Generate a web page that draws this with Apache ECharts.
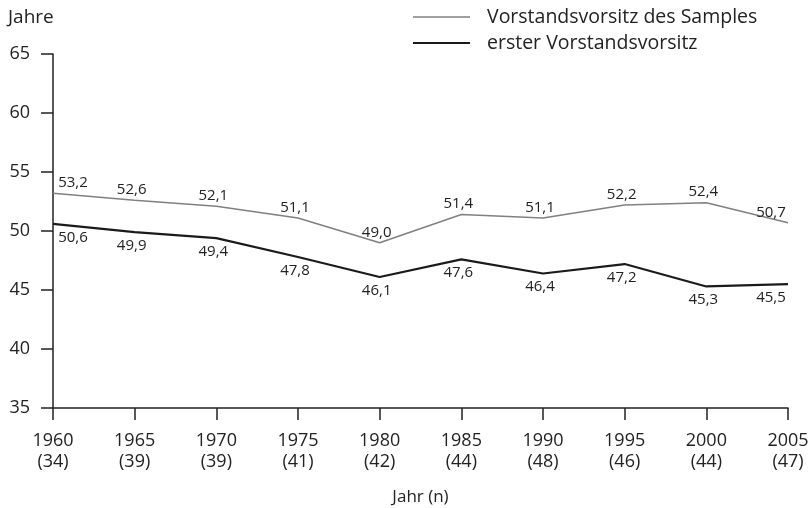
<!DOCTYPE html>
<html>
<head>
<meta charset="utf-8">
<script src="https://cdn.jsdelivr.net/npm/echarts@6/dist/echarts.min.js"></script>
<style>html,body{margin:0;padding:0;background:#fff;}#c{width:811px;height:508px;}</style>
</head>
<body>
<div id="c"></div>
<script>
var years = ['1960','1965','1970','1975','1980','1985','1990','1995','2000','2005'];
var counts = ['34','39','39','41','42','44','48','46','44','47'];
var sampleChair = [53.2,52.6,52.1,51.1,49.0,51.4,51.1,52.2,52.4,50.7];
var firstChair = [50.6,49.9,49.4,47.8,46.1,47.6,46.4,47.2,45.3,45.5];
var yTicks = [35,40,45,50,55,60,65];
var seriesNames = ['Vorstandsvorsitz des Samples','erster Vorstandsvorsitz'];

var FONT = 'Open Sans';
var TXT = '#222';
var GREY = '#808080', BLACK = '#1a1a1a';
var categories = years.map(function(y,i){ return y + '\n(' + counts[i] + ')'; });

function buildData(arr){
  return arr.map(function(v,i){
    var off = [-3,0];
    if(i===0) off=[20,0];
    if(i===arr.length-1) off=[-17,0];
    return {value:v, label:{offset:off}};
  });
}
function fmt(p){ return p.value.toFixed(1).replace('.',','); }

var chart = echarts.init(document.getElementById('c'));
chart.setOption({
  animation:false,
  textStyle:{fontFamily:FONT},
  grid:{left:53,right:23,top:54,bottom:100,containLabel:false,outerBoundsMode:'none'},
  graphic:[
    {type:'line',shape:{x1:413,y1:17,x2:470,y2:17},style:{stroke:GREY,lineWidth:1.5}},
    {type:'text',left:487,top:7,style:{text:seriesNames[0],font:'19.5px "Open Sans"',fill:TXT}},
    {type:'line',shape:{x1:413,y1:43,x2:470,y2:43},style:{stroke:BLACK,lineWidth:2.2}},
    {type:'text',left:487,top:33,style:{text:seriesNames[1],font:'19.5px "Open Sans"',fill:TXT}}
  ],
  xAxis:{
    type:'category', data:categories, boundaryGap:false,
    name:'Jahr (n)', nameLocation:'middle', nameGap:81,
    nameTextStyle:{fontFamily:FONT,fontSize:17,color:TXT},
    axisLine:{lineStyle:{color:TXT,width:1.5}},
    axisTick:{show:true,length:12,alignWithLabel:true,lineStyle:{color:TXT,width:1.5}},
    axisLabel:{fontFamily:FONT,fontSize:18,color:TXT,margin:22,lineHeight:21,interval:0}
  },
  yAxis:{
    type:'value', min:yTicks[0], max:yTicks[yTicks.length-1], interval:5,
    name:'Jahre', nameLocation:'end', nameGap:27,
    nameTextStyle:{fontFamily:FONT,fontSize:19,color:TXT,align:'left',padding:[0,0,0,-45]},
    axisLine:{show:true,lineStyle:{color:TXT,width:1.5}},
    axisTick:{show:true,length:12,lineStyle:{color:TXT,width:1.5}},
    splitLine:{show:false},
    axisLabel:{fontFamily:FONT,fontSize:18,color:TXT,margin:23}
  },
  series:[
    {name:seriesNames[0], type:'line', data:buildData(sampleChair), symbol:'circle', symbolSize:0, showSymbol:true,
     lineStyle:{color:GREY,width:1.5}, itemStyle:{color:GREY},
     label:{show:true,position:'top',distance:3,formatter:fmt,fontFamily:FONT,fontSize:15,color:TXT}},
    {name:seriesNames[1], type:'line', data:buildData(firstChair), symbol:'circle', symbolSize:0, showSymbol:true,
     lineStyle:{color:BLACK,width:2.2}, itemStyle:{color:BLACK},
     label:{show:true,position:'bottom',distance:6,formatter:fmt,fontFamily:FONT,fontSize:15,color:TXT}}
  ]
});
</script>
</body>
</html>
